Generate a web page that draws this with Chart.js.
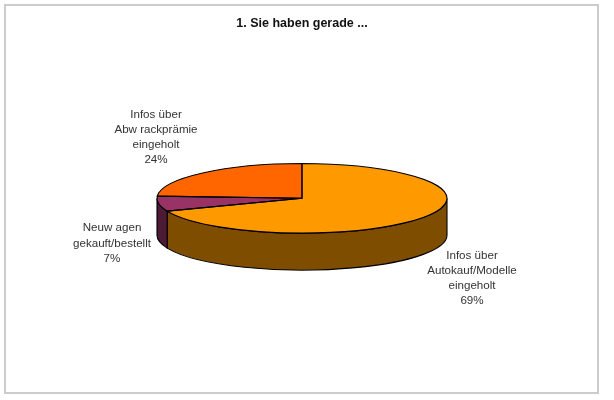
<!DOCTYPE html>
<html>
<head>
<meta charset="utf-8">
<style>
  html, body { margin: 0; padding: 0; background: #fff; }
  #wrap { position: relative; width: 614px; height: 400px; filter: blur(0.45px); }
  #frame { position: absolute; left: 4px; top: 4px; width: 591px; height: 386px; border: 2px solid #cccccc; }
  #chart { position: absolute; left: 0; top: 0; }
</style>
<script src="https://cdn.jsdelivr.net/npm/chart.js@4"></script>
</head>
<body>
<div id="wrap">
  <div id="frame"></div>
  <canvas id="chart" width="614" height="400"></canvas>
</div>
<script>
const titleText = '1. Sie haben gerade ...'
const categories = [
  ['Infos über', 'Autokauf/Modelle', 'eingeholt'],
  ['Neuw agen', 'gekauft/bestellt'],
  ['Infos über', 'Abw rackprämie', 'eingeholt']
]
const values = [69, 7, 24]
const topColors = ['#FF9900', '#993366', '#FF6600']
const sideColors = ['#7F4D00', '#4D1A33', '#7F3300']

// the pie is drawn flat by Chart.js, this squashes it and adds the wall
const squash = 0.24
const depth = 37

// label block centre, relative to the pie centre
const labelOffsets = [[170, 80], [-190, 45], [-146, -61]]

const tiltPlugin = {
  id: 'tilt',
  beforeDatasetsDraw(chart) {
    const ctx = chart.ctx
    const arcs = chart.getDatasetMeta(0).data
    const cx = arcs[0].x
    const cy = arcs[0].y

    ctx.save()
    ctx.translate(cx, cy)
    ctx.scale(1, squash)
    ctx.translate(-cx, -cy)

    // side wall, only the front half of the ellipse can be seen
    arcs.forEach((arc, i) => {
      const from = Math.max(arc.startAngle, 0)
      const to = Math.min(arc.endAngle, Math.PI)
      if (to > from) drawWall(ctx, cx, cy, arc.outerRadius, from, to, sideColors[i])
    })
  },
  afterDatasetsDraw(chart) {
    const ctx = chart.ctx
    const arcs = chart.getDatasetMeta(0).data

    // outlines again here, a squashed border would go thin at top and bottom
    arcs.forEach(arc => {
      ctx.beginPath()
      ctx.moveTo(arc.x, arc.y)
      ctx.arc(arc.x, arc.y, arc.outerRadius, arc.startAngle, arc.endAngle)
      ctx.closePath()
      strokeFlat(ctx)
    })
    ctx.restore()

    ctx.save()
    ctx.font = '11.6px "Liberation Sans", Arial, sans-serif'
    ctx.fillStyle = '#333'
    ctx.textAlign = 'center'
    ctx.textBaseline = 'middle'
    categories.forEach((lines, i) => {
      const all = lines.concat(values[i] + '%')
      const x = arcs[0].x + labelOffsets[i][0]
      const y = arcs[0].y + labelOffsets[i][1] - (all.length - 1) * 15.2 / 2
      all.forEach((line, k) => ctx.fillText(line, x, y + k * 15.2))
    })
    ctx.restore()
  }
}

function strokeFlat(ctx) {
  ctx.save()
  ctx.setTransform(1, 0, 0, 1, 0, 0)
  ctx.strokeStyle = '#000'
  ctx.lineWidth = 1.1
  ctx.stroke()
  ctx.restore()
}

function drawWall(ctx, cx, cy, r, from, to, color) {
  const d = depth / squash
  ctx.beginPath()
  ctx.arc(cx, cy, r, from, to)
  ctx.arc(cx, cy + d, r, to, from, true)
  ctx.closePath()
  ctx.fillStyle = color
  ctx.fill()
  strokeFlat(ctx)
}

new Chart(document.getElementById('chart'), {
  type: 'pie',
  data: {
    labels: categories.map(c => c.join(' ')),
    datasets: [{
      data: values,
      backgroundColor: topColors,
      borderWidth: 0,
      radius: 145
    }]
  },
  options: {
    responsive: false,
    animation: false,
    layout: { padding: { left: 0, right: 10, top: 0, bottom: 57 } },
    plugins: {
      legend: { display: false },
      tooltip: { enabled: false },
      title: {
        display: true,
        text: titleText,
        color: '#111',
        font: { family: '"Liberation Sans", Arial, sans-serif', size: 12.5, weight: 'bold' },
        padding: { top: 16, bottom: 22.6 }
      }
    }
  },
  plugins: [tiltPlugin]
})
</script>
</body>
</html>
